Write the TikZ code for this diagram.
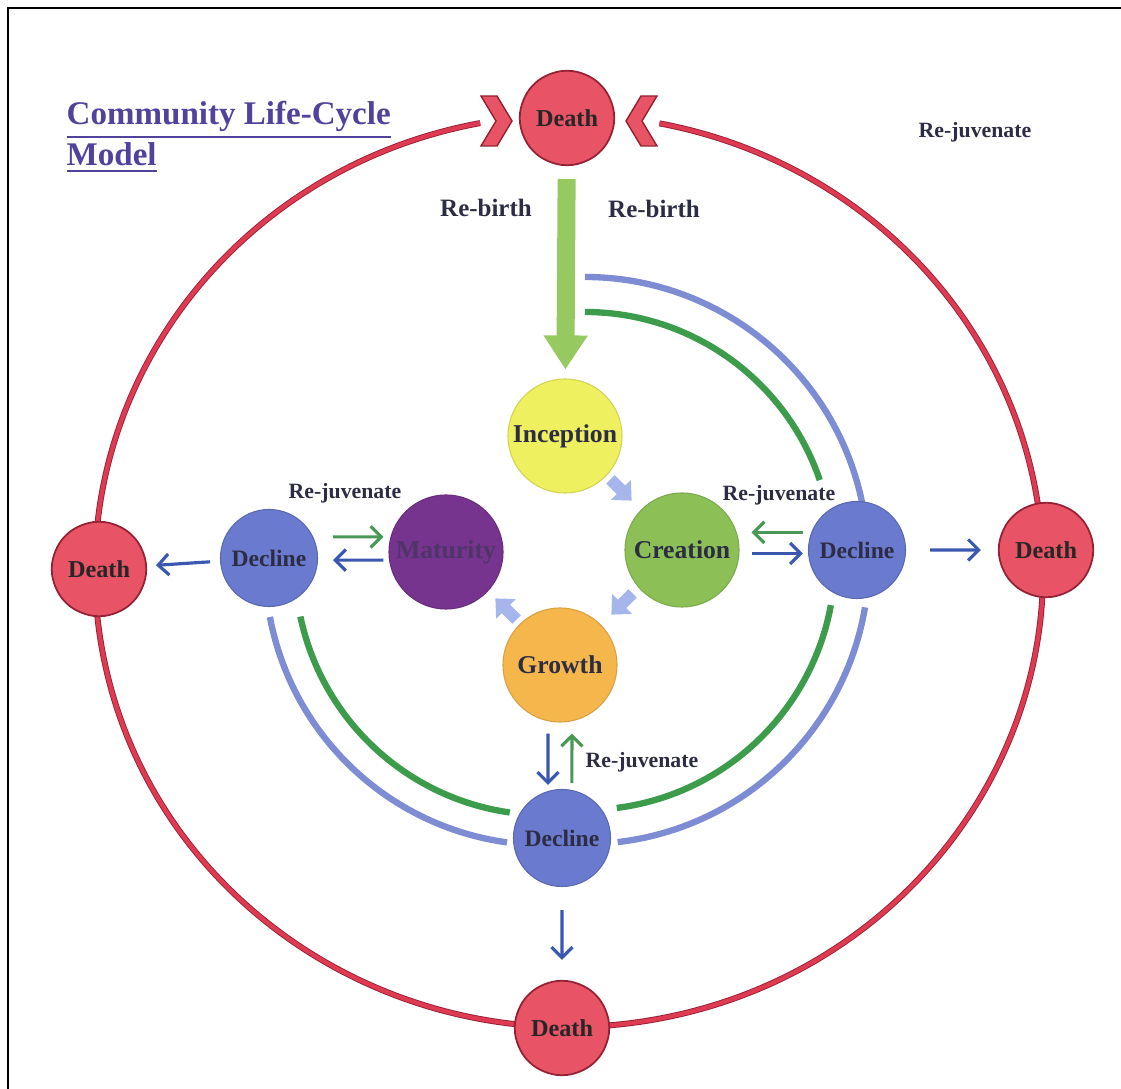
\documentclass[tikz,border=0pt]{standalone}
\usepackage{fontspec}
\setmainfont{Liberation Serif}
\usetikzlibrary{calc,arrows.meta,shapes.geometric}

\definecolor{deathred}{RGB}{232,84,102}
\definecolor{deathedge}{RGB}{150,32,52}
\definecolor{ringred}{RGB}{222,58,82}
\definecolor{inceptyellow}{RGB}{238,240,96}
\definecolor{creatgreen}{RGB}{140,192,86}
\definecolor{groworange}{RGB}{245,182,76}
\definecolor{maturpurple}{RGB}{118,52,142}
\definecolor{maturtext}{RGB}{78,52,104}
\definecolor{declblue}{RGB}{106,122,206}
\definecolor{arcblue}{RGB}{126,140,212}
\definecolor{arcgreen}{RGB}{60,156,76}
\definecolor{arrblue}{RGB}{58,88,176}
\definecolor{arrgreen}{RGB}{74,152,86}
\definecolor{chunkblue}{RGB}{166,182,236}
\definecolor{rebirthgreen}{RGB}{150,202,96}
\definecolor{inktext}{RGB}{44,44,68}
\definecolor{titleblue}{RGB}{82,66,156}

\newcommand\stagefont{\bfseries\fontsize{7.3}{8}\selectfont}
\newcommand\notefont{\bfseries\fontsize{6.2}{7}\selectfont}
\newcommand\birthfont{\bfseries\fontsize{7.1}{8}\selectfont}
\newcommand\headfont{\bfseries\fontsize{9.4}{9.8}\selectfont}

\tikzset{
	stage/.style={circle,minimum size=1.14cm,inner sep=0pt,fill=#1,draw=#1!88!black,line width=0.3pt,text=inktext,font=\stagefont},
	decline/.style={circle,minimum size=0.97cm,inner sep=0pt,fill=declblue,draw=declblue!85!black,line width=0.3pt,text=inktext,font=\bfseries\fontsize{6.7}{8}\selectfont},
	death/.style={regular polygon,regular polygon sides=8,minimum size=1.02cm,inner sep=0pt,rounded corners=5pt,fill=deathred,draw=deathedge,line width=0.5pt,text=black!85,font=\bfseries\fontsize{6.9}{8}\selectfont},
	ring/.style={draw=ringred,line width=1.2pt,preaction={draw=deathedge,line width=1.7pt}},
	bluearc/.style={draw=arcblue,line width=1.8pt},
	greenarc/.style={draw=arcgreen,line width=1.8pt},
	bluearr/.style={draw=arrblue,line width=0.9pt,-{Straight Barb[length=3pt,width=6pt]}},
	greenarr/.style={draw=arrgreen,line width=0.9pt,-{Straight Barb[length=3pt,width=6pt]}},
	note/.style={inner sep=0pt,text=inktext,font=\notefont},
}

\begin{document}
\begin{tikzpicture}[x=0.01cm,y=-0.01cm]
\useasboundingbox (0,0) rectangle (1121,1089);
\draw[line width=0.8pt] (8,1089) -- (8,8) -- (1121,8);

% outer ring of deaths
\draw[ring] ($(569,571)+(-100.8:474 and 456)$) arc[start angle=-100.8,end angle=-439,x radius=474,y radius=456];
\filldraw[fill=deathred,draw=deathedge,line width=0.4pt] (481,96) -- (497,96) -- (512,121) -- (497,146) -- (481,146) -- (496,121) -- cycle;
\filldraw[fill=deathred,draw=deathedge,line width=0.4pt] (657,96) -- (641,96) -- (626,121) -- (641,146) -- (657,146) -- (642,121) -- cycle;

% decline paths
\coordinate (hubR) at (585,560);
\coordinate (hubL) at (545,565);
\draw[bluearc] ($(hubR)+(-90:283)$) arc[start angle=-90,end angle=-11.6,radius=283];
\draw[greenarc] ($(hubR)+(-90:248)$) arc[start angle=-90,end angle=-18.8,radius=248];
\draw[bluearc] ($(hubR)+(9.6:284)$) arc[start angle=9.6,end angle=83.4,radius=284];
\draw[greenarc] ($(hubR)+(10.4:250)$) arc[start angle=10.4,end angle=82.7,radius=250];
\draw[bluearc] ($(hubL)+(169.3:280)$) arc[start angle=169.3,end angle=97.8,radius=280];
\draw[greenarc] ($(hubL)+(168.1:250)$) arc[start angle=168.1,end angle=98.1,radius=250];

\node[death] (dtop) at (567,118) {Death};
\node[death] (dright) at (1046,550) {Death};
\node[death] (dleft) at (99,569) {Death};
\node[death] (dbot) at (562,1028) {Death};

\node[stage=inceptyellow] (incep) at (565,436) {Inception};
\node[stage=creatgreen] (creat) at (682,550) {Creation};
\node[stage=groworange] (growth) at (560,665) {Growth};
\node[stage=maturpurple,text=maturtext] (matur) at (446,552) {Maturity};
\node[decline] (decR) at (857,550) {Decline};
\node[decline] (decL) at (269,558) {Decline};
\node[decline] (decB) at (562,838) {Decline};

% stage cycle
\foreach \px/\py/\ang in {621/490/-45, 622/604/-135, 506/609/135}
	\fill[chunkblue,shift={(\px,\py)},rotate=\ang] (-15,-6) -- (0,-6) -- (0,-14) -- (15,0) -- (0,14) -- (0,6) -- (-15,6) -- cycle;

\draw[draw=rebirthgreen,line width=0.18cm,-{Triangle[width=0.42cm,length=0.34cm]},shorten <=0.13cm,shorten >=0.09cm] (dtop) -- (incep);

\draw[greenarr,shorten <=0.05cm,shorten >=0.12cm] ([yshift=5pt]decR.west) -- ([yshift=5pt]creat.east);
\draw[bluearr,shorten <=0.12cm,shorten >=0.05cm] ([yshift=-1pt]creat.east) -- ([yshift=-1pt]decR.west);
\draw[greenarr,shorten <=0.15cm,shorten >=0.05cm] ([yshift=6pt]decL.east) -- ([yshift=4.3pt]matur.west);
\draw[bluearr,shorten <=0.05cm,shorten >=0.15cm] ([yshift=-2.3pt]matur.west) -- ([yshift=-0.6pt]decL.east);
\draw[bluearr,shorten <=0.11cm,shorten >=0.04cm] ([xshift=-3.4pt]growth.south) -- ([xshift=-4pt]decB.north);
\draw[greenarr,shorten <=0.06cm,shorten >=0.11cm] ([xshift=2.8pt]decB.north) -- ([xshift=3.4pt]growth.south);

\draw[bluearr,shorten <=0.24cm,shorten >=0.17cm] (decR) -- (dright);
\draw[bluearr,shorten <=0.1cm,shorten >=0.09cm] (decL) -- (dleft);
\draw[bluearr,shorten <=0.23cm,shorten >=0.2cm] (decB) -- (dbot);

% labels
\node[note,font=\birthfont] (rbL) at (486,208) {Re-birth};
\node[note,font=\birthfont] (rbR) at (654,209) {Re-birth};
\node[note] (rjTop) at (975,132) {Re-juvenate};
\node[note] (rjR) at (779,495) {Re-juvenate};
\node[note] (rjL) at (345,493) {Re-juvenate};
\node[note] (rjB) at (642,762) {Re-juvenate};

\node[inner sep=0pt,anchor=north west,align=left,text=titleblue,font=\headfont] (title) at (66,101) {\underline{Community Life-Cycle}\\\underline{Model}};
\end{tikzpicture}
\end{document}
